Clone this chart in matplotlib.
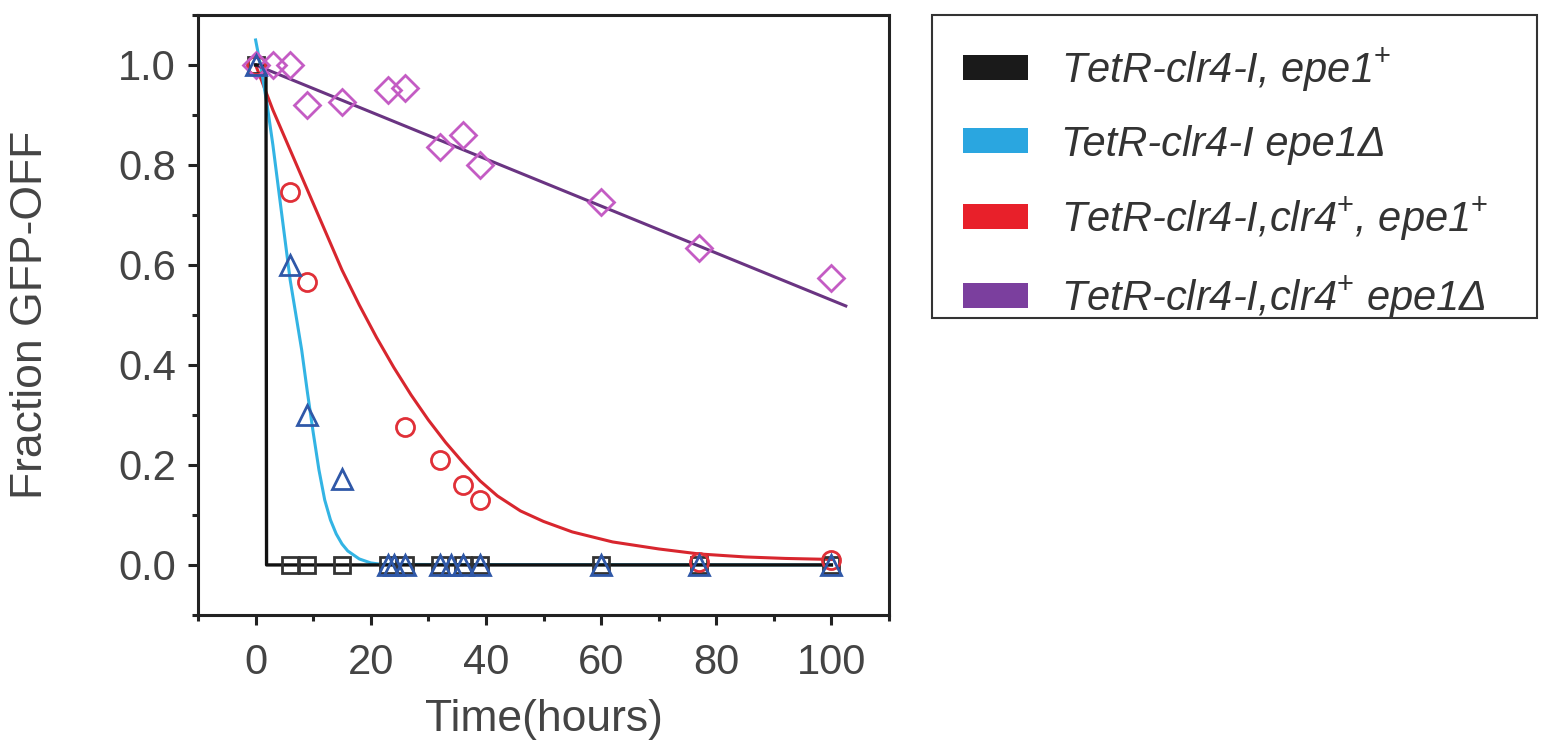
import matplotlib
matplotlib.use('Agg')
import matplotlib.pyplot as plt
from matplotlib.patches import Patch, Rectangle
from matplotlib.ticker import MultipleLocator, FormatStrFormatter

plt.rcParams['font.family'] = ['Liberation Sans', 'DejaVu Sans']
plt.rcParams['mathtext.fontset'] = 'custom'
plt.rcParams['mathtext.rm'] = 'Liberation Sans'
plt.rcParams['mathtext.it'] = 'Liberation Sans:italic'

# measured points
t_black = [0, 6, 9, 15, 23, 26, 32, 36, 39, 60, 77, 100]
y_black = [1.0, 0, 0, 0, 0, 0, 0, 0, 0, 0, 0, 0]

t_blue = [0, 6, 9, 15, 23, 24, 26, 32, 34, 36, 39, 60, 77, 100]
y_blue = [1.0, 0.6, 0.3, 0.172, 0, 0, 0, 0, 0, 0, 0, 0, 0, 0]

t_red = [0, 6, 9, 26, 32, 36, 39, 77, 100]
y_red = [1.0, 0.746, 0.566, 0.276, 0.21, 0.16, 0.13, 0.006, 0.01]

t_purple = [0, 3, 6, 9, 15, 23, 26, 32, 36, 39, 60, 77, 100]
y_purple = [1.0, 1.0, 1.0, 0.92, 0.926, 0.95, 0.954, 0.836, 0.86, 0.80, 0.726, 0.634, 0.573]

# fitted curves
fit_black_t = [0, 1.8, 1.9, 100]
fit_black_y = [1.0, 1.0, 0.0, 0.0]

fit_blue_t = [0, 1, 2, 3, 4, 5, 6, 7, 8, 9, 10, 11, 12, 13, 14, 15, 16, 18, 20, 22, 100]
fit_blue_y = [1.05, 0.99, 0.92, 0.84, 0.75, 0.66, 0.57, 0.50, 0.43, 0.345, 0.265, 0.19,
              0.13, 0.09, 0.062, 0.042, 0.028, 0.012, 0.004, 0.001, 0.0]

fit_red_t = [0, 3, 6, 9, 12, 15, 18, 21, 24, 27, 30, 33, 36, 39, 42, 46, 50, 55, 62,
             70, 77, 85, 92, 100]
fit_red_y = [1.0, 0.91, 0.83, 0.75, 0.67, 0.59, 0.52, 0.455, 0.395, 0.34, 0.29, 0.245,
             0.205, 0.168, 0.138, 0.108, 0.087, 0.066, 0.046, 0.032, 0.022, 0.016, 0.013, 0.011]

fit_purple_t = [0, 102.5]
fit_purple_y = [1.0, 0.518]

labels = ['TetR-clr4-I, epe1$^{+}$', 'TetR-clr4-I epe1\u0394',
          'TetR-clr4-I,clr4$^{+}$, epe1$^{+}$', 'TetR-clr4-I,clr4$^{+}$ epe1\u0394']
legend_colors = ['#1a1a1a', '#2aa6e0', '#e8202a', '#7b3f9e']

fig = plt.figure(figsize=(15.52, 7.49), dpi=100)
ax = fig.add_axes([0.1276, 0.179, 0.4452, 0.801])

ax.plot(fit_red_t, fit_red_y, color='#d8262e', lw=2.2, zorder=2)
ax.plot(fit_blue_t, fit_blue_y, color='#33b4e4', lw=2.2, zorder=2)
ax.plot(fit_black_t, fit_black_y, color='#111111', lw=2.4, zorder=2.5)
ax.plot(t_black, y_black, 's', ms=11, mfc='none', mec='#333333', mew=2, zorder=3)
ax.plot(t_red, y_red, 'o', ms=13, mfc='none', mec='#e03038', mew=2, zorder=3)
ax.plot(t_blue, y_blue, '^', ms=15, mfc='none', mec='#2f58a8', mew=2, zorder=4)
ax.plot(fit_purple_t, fit_purple_y, color='#6a3482', lw=2.2, zorder=2)
ax.plot(t_purple, y_purple, 'D', ms=13, mfc='none', mec='#c45cc4', mew=2, zorder=3)

ax.set_xlim(-10, 110)
ax.set_ylim(-0.1, 1.1)
ax.xaxis.set_major_locator(MultipleLocator(20))
ax.xaxis.set_minor_locator(MultipleLocator(10))
ax.yaxis.set_major_locator(MultipleLocator(0.2))
ax.yaxis.set_minor_locator(MultipleLocator(0.1))
ax.yaxis.set_major_formatter(FormatStrFormatter('%.1f'))

for s in ax.spines.values():
    s.set_linewidth(2.2)
    s.set_color('#222222')
ax.tick_params(which='major', direction='out', length=7, width=2.2, labelsize=30,
               colors='#222222', labelcolor='#444444', pad=9)
ax.tick_params(axis='x', which='major', pad=13)
ax.tick_params(which='minor', direction='out', length=4.5, width=2.2, colors='#222222')
ax.tick_params(top=False, right=False, which='both')

ax.set_xlabel('Time(hours)', fontsize=32, color='#444444', labelpad=12)
ax.set_ylabel('Fraction GFP-OFF', fontsize=32, color='#444444', labelpad=48)

handles = [Patch(facecolor=c, edgecolor='none') for c in legend_colors]
leg = fig.legend(handles, labels, loc='upper left', bbox_to_anchor=(0.6005, 0.98),
                 fontsize=30, frameon=False, borderpad=0.75,
                 labelspacing=0.74, handlelength=1.55, handleheight=0.55,
                 handletextpad=0.8, borderaxespad=0)
for txt in leg.get_texts():
    txt.set_fontstyle('italic')
    txt.set_color('#333333')

# legend frame
fig.add_artist(Rectangle((0.6005, 0.5754), 0.3898, 0.4045, transform=fig.transFigure,
                         fill=False, edgecolor='#333333', linewidth=1.5))

fig.savefig('out.png', dpi=100)
